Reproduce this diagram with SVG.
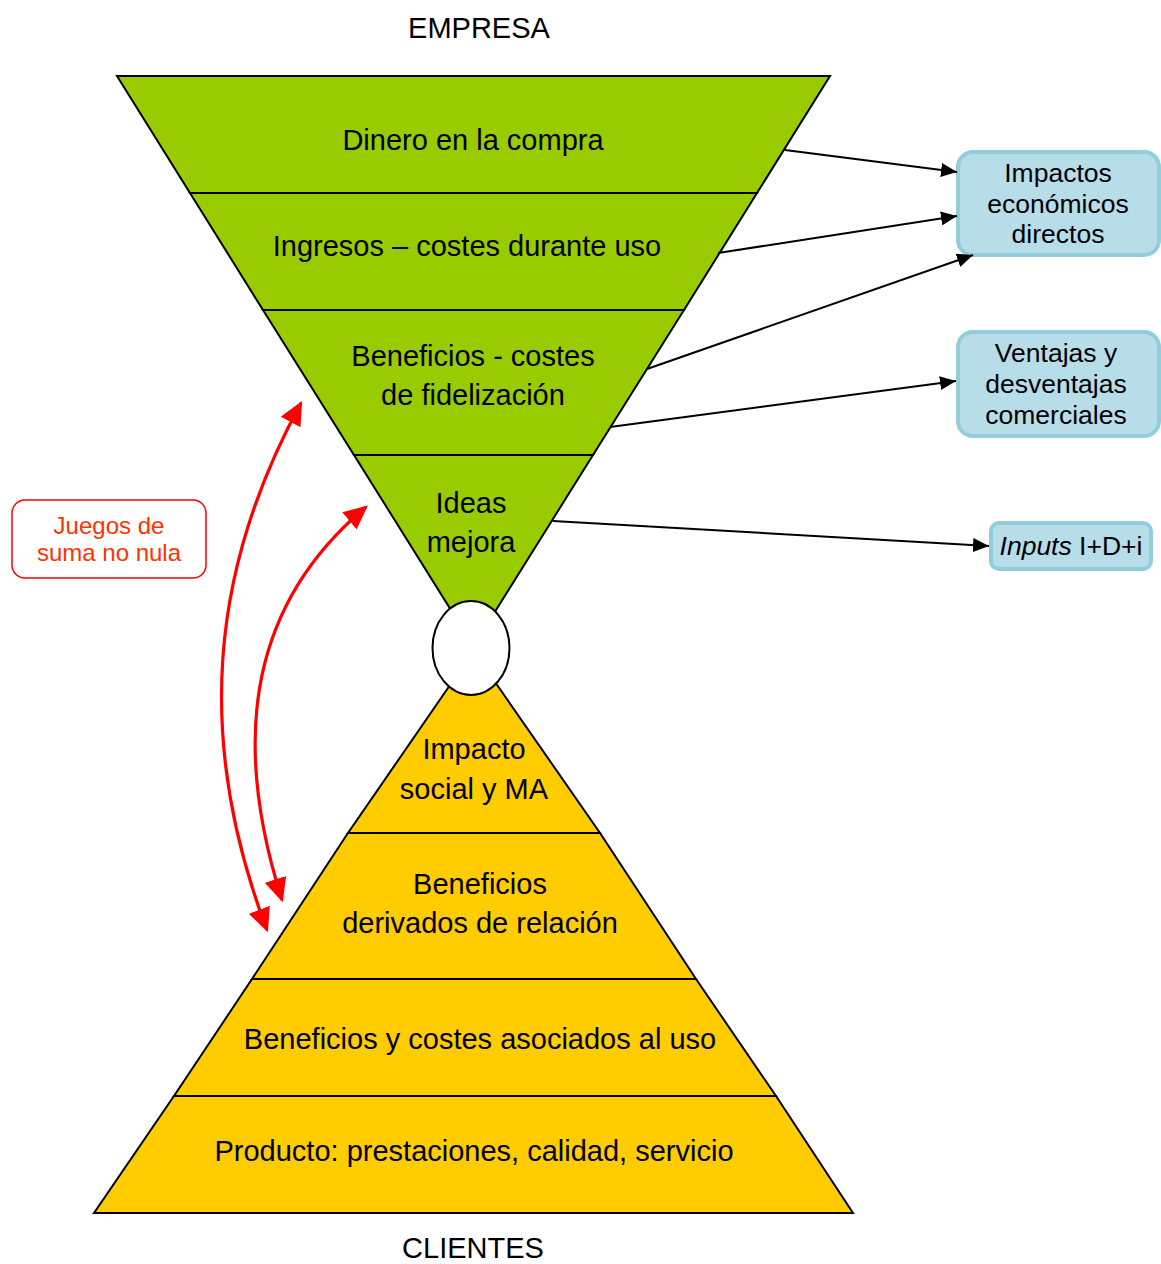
<svg xmlns="http://www.w3.org/2000/svg" width="1161" height="1264" viewBox="0 0 1161 1264">
  <style>
    text { font-family: "Liberation Sans", Arial, sans-serif; fill: #000; text-anchor: middle; }
    .lvl { font-size: 29px; }
    .cap { font-size: 29px; }
    .box { font-size: 26.5px; }
    .green { fill: #99cc00; stroke: #000; stroke-width: 2; stroke-linejoin: miter; }
    .yellow { fill: #ffcc00; stroke: #000; stroke-width: 2; }
    .out { fill: #b7dde8; stroke: #92cddc; stroke-width: 4; }
    .conn { fill: none; stroke: #000; stroke-width: 2; marker-end: url(#blk); }
    .red { fill: none; stroke: #ff0000; stroke-width: 3.2; marker-start: url(#redhead); marker-end: url(#redhead); }
  </style>
  <defs>
    <marker id="blk" viewBox="0 0 10 10" refX="10" refY="5" markerWidth="8" markerHeight="7" markerUnits="strokeWidth" orient="auto" preserveAspectRatio="none">
      <path d="M0,0 L10,5 L0,10 Z" fill="#000"/>
    </marker>
    <marker id="redhead" viewBox="0 0 10 10" refX="9" refY="5" markerWidth="7.5" markerHeight="7" markerUnits="strokeWidth" orient="auto-start-reverse" preserveAspectRatio="none">
      <path d="M0,0 L10,5 L0,10 Z" fill="#ff0000"/>
    </marker>
  </defs>

  <rect width="1161" height="1264" fill="#fff"/>

  <g id="empresa-title"><text class="cap" x="479" y="38">EMPRESA</text></g>
  <g id="clientes-title"><text class="cap" x="473" y="1258">CLIENTES</text></g>

  <!-- upper funnel (company side) -->
  <g id="funnel-dinero">
    <polygon class="green" points="117,76 830,76 757,193 190,193"/>
    <text class="lvl" x="473" y="150">Dinero en la compra</text>
  </g>
  <g id="funnel-ingresos">
    <polygon class="green" points="190,193 757,193 684,310 263,310"/>
    <text class="lvl" x="467" y="256">Ingresos – costes durante uso</text>
  </g>
  <g id="funnel-beneficios">
    <polygon class="green" points="263,310 684,310 593,455 354,455"/>
    <text class="lvl" x="473" y="366">Beneficios - costes</text>
    <text class="lvl" x="473" y="405">de fidelización</text>
  </g>
  <g id="funnel-ideas">
    <polygon class="green" points="354,455 593,455 473.5,646"/>
    <text class="lvl" x="471" y="513">Ideas</text>
    <text class="lvl" x="471" y="552">mejora</text>
  </g>

  <!-- lower pyramid (customer side) -->
  <g id="pyr-impacto">
    <polygon class="yellow" points="473.5,651 600,833 348,833"/>
    <text class="lvl" x="474" y="759">Impacto</text>
    <text class="lvl" x="474" y="799">social y MA</text>
  </g>
  <g id="pyr-relacion">
    <polygon class="yellow" points="348,833 600,833 696,979 252,979"/>
    <text class="lvl" x="480" y="894">Beneficios</text>
    <text class="lvl" x="480" y="933">derivados de relación</text>
  </g>
  <g id="pyr-uso">
    <polygon class="yellow" points="252,979 696,979 776,1096 174,1096"/>
    <text class="lvl" x="480" y="1049">Beneficios y costes asociados al uso</text>
  </g>
  <g id="pyr-producto">
    <polygon class="yellow" points="174,1096 776,1096 853,1213 94,1213"/>
    <text class="lvl" x="474" y="1161">Producto: prestaciones, calidad, servicio</text>
  </g>

  <g id="neck">
    <ellipse cx="471" cy="648" rx="38.5" ry="47" fill="#fff" stroke="#000" stroke-width="2"/>
  </g>

  <!-- outcome boxes -->
  <g id="box-impactos">
    <rect class="out" x="958" y="152" width="201" height="103" rx="15"/>
    <text class="box" x="1058" y="182">Impactos</text>
    <text class="box" x="1058" y="213">económicos</text>
    <text class="box" x="1058" y="243">directos</text>
  </g>
  <g id="box-ventajas">
    <rect class="out" x="958" y="332" width="201" height="104" rx="15"/>
    <text class="box" x="1056" y="362">Ventajas y</text>
    <text class="box" x="1056" y="393">desventajas</text>
    <text class="box" x="1056" y="424">comerciales</text>
  </g>
  <g id="box-inputs">
    <rect class="out" x="991" y="523" width="160" height="46" rx="8"/>
    <text class="box" x="1071" y="555"><tspan font-style="italic">Inputs</tspan> I+D+i</text>
  </g>

  <g id="label-juegos">
    <rect x="12" y="500" width="194" height="78" rx="13" fill="#fff" stroke="#ff0000" stroke-width="1.5"/>
    <text x="109" y="534" font-size="24" style="fill:#ff3300">Juegos de</text>
    <text x="109" y="561" font-size="24" style="fill:#ff3300">suma no nula</text>
  </g>

  <!-- connectors -->
  <g id="connectors">
    <line class="conn" x1="785" y1="150" x2="957" y2="172"/>
    <line class="conn" x1="718" y1="253" x2="957" y2="216"/>
    <line class="conn" x1="647" y1="369" x2="973" y2="255"/>
    <line class="conn" x1="610" y1="427" x2="956" y2="381"/>
    <line class="conn" x1="553" y1="521" x2="989" y2="546"/>
    <path class="red" d="M301,403 C210,570 195,740 267,930"/>
    <path class="red" d="M366,507 C255,600 228,730 282,900"/>
  </g>
</svg>
